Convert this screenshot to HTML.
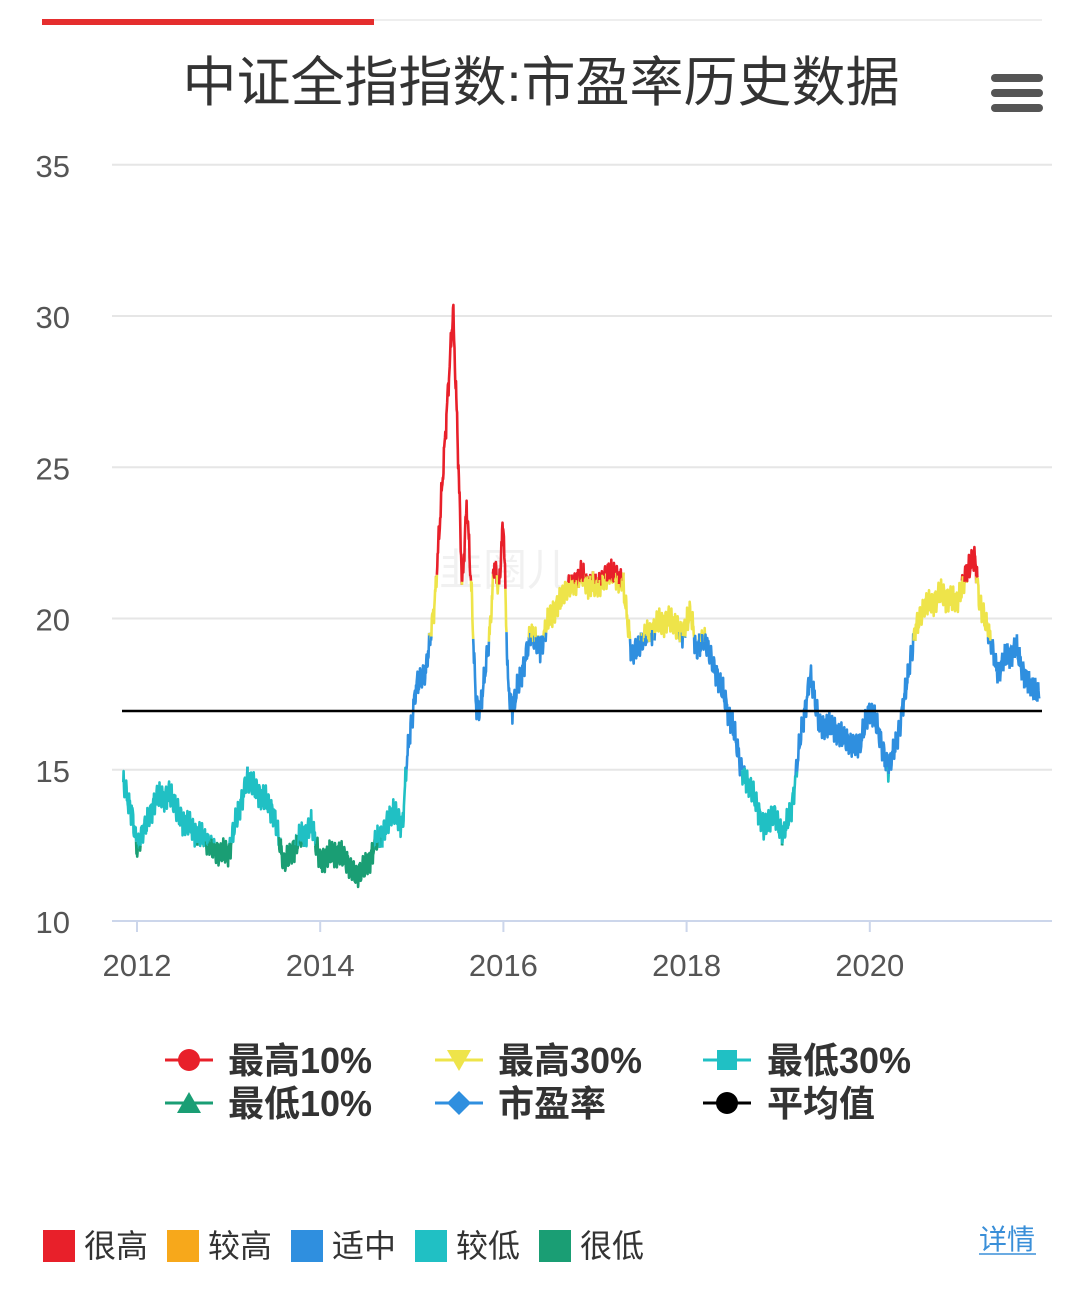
<!DOCTYPE html>
<html><head><meta charset="utf-8">
<style>
body{margin:0;background:#fff;width:1080px;height:1299px;overflow:hidden;font-family:"Liberation Sans","Noto Sans CJK SC",sans-serif;}
</style></head>
<body>
<svg id="s" width="1080" height="1299" xmlns="http://www.w3.org/2000/svg" style="position:absolute;left:0;top:0">
<rect x="42" y="19" width="1000" height="2" fill="#eee"/>
<rect x="42" y="19" width="332" height="6" fill="#e52e2e"/>
<text x="541" y="101" text-anchor="middle" font-size="54" fill="#333" font-family="Liberation Sans,Noto Sans CJK SC,sans-serif">中证全指指数:市盈率历史数据</text>
<rect x="991" y="74" width="52" height="8" rx="4" fill="#555"/>
<rect x="991" y="89" width="52" height="8" rx="4" fill="#555"/>
<rect x="991" y="104" width="52" height="8" rx="4" fill="#555"/>
<g id="grid"></g>
<text x="505" y="585" text-anchor="middle" font-size="44" fill="#000" opacity="0.05">韭圈儿</text>
<g id="series"></g>
<line x1="122" y1="711" x2="1042" y2="711" stroke="#000" stroke-width="2.5"/>
<g font-size="36" font-weight="bold" fill="#333">
<line x1="165" y1="1060" x2="213" y2="1060" stroke="#e8202a" stroke-width="3"/><circle cx="189" cy="1060" r="11" fill="#e8202a"/><text x="228" y="1073">最高10%</text>
<line x1="435" y1="1060" x2="483" y2="1060" stroke="#eee44a" stroke-width="3"/><polygon points="447,1050 471,1050 459,1071" fill="#eee44a"/><text x="498" y="1073">最高30%</text>
<line x1="703" y1="1060" x2="751" y2="1060" stroke="#20c0c4" stroke-width="3"/><rect x="717" y="1050" width="20" height="20" fill="#20c0c4"/><text x="767" y="1073">最低30%</text>
<line x1="165" y1="1103" x2="213" y2="1103" stroke="#1a9e74" stroke-width="3"/><polygon points="189,1092 201,1113 177,1113" fill="#1a9e74"/><text x="228" y="1116">最低10%</text>
<line x1="435" y1="1103" x2="483" y2="1103" stroke="#2f8fdf" stroke-width="3"/><polygon points="459,1091 471,1103 459,1115 447,1103" fill="#2f8fdf"/><text x="498" y="1116">市盈率</text>
<line x1="703" y1="1103" x2="751" y2="1103" stroke="#000" stroke-width="3"/><circle cx="727" cy="1103" r="11" fill="#000"/><text x="767" y="1116">平均值</text>
</g>
<g font-size="32" fill="#333">
<rect x="43" y="1230" width="32" height="32" fill="#e8202a"/><text x="84" y="1257">很高</text>
<rect x="167" y="1230" width="32" height="32" fill="#f7a81b"/><text x="208" y="1257">较高</text>
<rect x="291" y="1230" width="32" height="32" fill="#2f8fdf"/><text x="332" y="1257">适中</text>
<rect x="415" y="1230" width="32" height="32" fill="#20c0c4"/><text x="456" y="1257">较低</text>
<rect x="539" y="1230" width="32" height="32" fill="#1a9e74"/><text x="580" y="1257">很低</text>
</g>
<text x="979" y="1249" font-size="28" fill="#3a8fd8">详情</text>
<line x1="979" y1="1254" x2="1036" y2="1254" stroke="#3a8fd8" stroke-width="1.5"/>
</svg>
<script>
function Y(v){return 921-(v-10)*30.25;}
function X(t){return 137+(t-2012)*91.6;}
var g=document.getElementById('grid'),h='';
[35,30,25,20,15].forEach(function(v){h+='<line x1="112" y1="'+Y(v)+'" x2="1052" y2="'+Y(v)+'" stroke="#e6e6e6" stroke-width="2"/>';});
[10,15,20,25,30,35].forEach(function(v){h+='<text x="70" y="'+(Y(v)+12)+'" text-anchor="end" font-size="31" fill="#555">'+v+'</text>';});
h+='<line x1="112" y1="921" x2="1052" y2="921" stroke="#ccd6eb" stroke-width="2"/>';
[2012,2014,2016,2018,2020].forEach(function(y){var x=X(y);h+='<line x1="'+x+'" y1="921" x2="'+x+'" y2="932" stroke="#ccd6eb" stroke-width="2"/><text x="'+x+'" y="976" text-anchor="middle" font-size="31" fill="#555">'+y+'</text>';});
g.innerHTML=h;
var K=[[2011.85,14.5],[2011.95,13.5],[2012.0,12.4],[2012.1,13.2],[2012.2,14.0],[2012.35,14.2],[2012.5,13.3],[2012.7,12.8],[2012.9,12.2],[2013.0,12.3],[2013.2,14.7],[2013.4,14.0],[2013.5,13.5],[2013.6,11.9],[2013.8,12.8],[2013.9,13.2],[2014.0,12.0],[2014.2,12.3],[2014.4,11.5],[2014.5,11.8],[2014.6,12.5],[2014.8,13.6],[2014.9,13.2],[2014.95,15.5],[2015.05,17.8],[2015.15,18.2],[2015.25,20.5],[2015.35,25.3],[2015.45,30.2],[2015.5,26],[2015.55,21],[2015.6,23.8],[2015.65,21],[2015.7,17.2],[2015.75,17.0],[2015.85,19.5],[2015.9,21.8],[2015.95,21],[2016.0,23.3],[2016.05,17.8],[2016.1,17.0],[2016.2,18.2],[2016.3,19.5],[2016.4,19.0],[2016.5,20],[2016.7,21.0],[2016.85,21.4],[2017.0,21.0],[2017.15,21.5],[2017.3,21.3],[2017.4,18.8],[2017.6,19.6],[2017.8,20.0],[2017.95,19.5],[2018.05,20.2],[2018.1,19.0],[2018.2,19.3],[2018.4,17.5],[2018.5,16.5],[2018.6,15.0],[2018.75,14.0],[2018.85,13.0],[2018.95,13.6],[2019.05,12.8],[2019.15,13.8],[2019.25,16.2],[2019.35,18.1],[2019.45,16.5],[2019.6,16.4],[2019.8,15.8],[2019.9,15.9],[2020.0,17.1],[2020.1,16.2],[2020.2,15.0],[2020.3,16.0],[2020.4,17.8],[2020.5,19.7],[2020.6,20.4],[2020.7,20.6],[2020.8,20.8],[2020.95,20.5],[2021.05,21.5],[2021.15,22.0],[2021.2,20.5],[2021.3,19.5],[2021.4,18.2],[2021.5,18.8],[2021.6,19.0],[2021.7,18.0],[2021.8,17.6],[2021.85,17.5]];
function val(t){for(var i=0;i<K.length-1;i++){if(t<=K[i+1][0]){var a=K[i],b=K[i+1],f=(t-a[0])/(b[0]-a[0]);return a[1]+(b[1]-a[1])*f;}}return K[K.length-1][1];}
function col(v){if(v>21.3)return'#e8202a';if(v>19.4)return'#eee44a';if(v>14.9)return'#2f8fdf';if(v>12.6)return'#20c0c4';return'#1a9e74';}
var pts=[];for(var t=2011.85;t<=2021.851;t+=0.004){var v=val(t)+0.25*Math.sin(t*190)+0.18*Math.sin(t*433+1)+0.12*Math.sin(t*911+2);pts.push([X(t),Y(v),v]);}
var s='',cur=null,d='';
for(var i=0;i<pts.length-1;i++){var c=col((pts[i][2]+pts[i+1][2])/2);if(c!==cur){if(d)s+='<path d="'+d+'" stroke="'+cur+'" fill="none" stroke-width="2.6" stroke-linejoin="round"/>';cur=c;d='M'+pts[i][0].toFixed(1)+' '+pts[i][1].toFixed(1);}d+='L'+pts[i+1][0].toFixed(1)+' '+pts[i+1][1].toFixed(1);}
s+='<path d="'+d+'" stroke="'+cur+'" fill="none" stroke-width="2.6"/>';
document.getElementById('series').innerHTML=s;
</script>
</body></html>
